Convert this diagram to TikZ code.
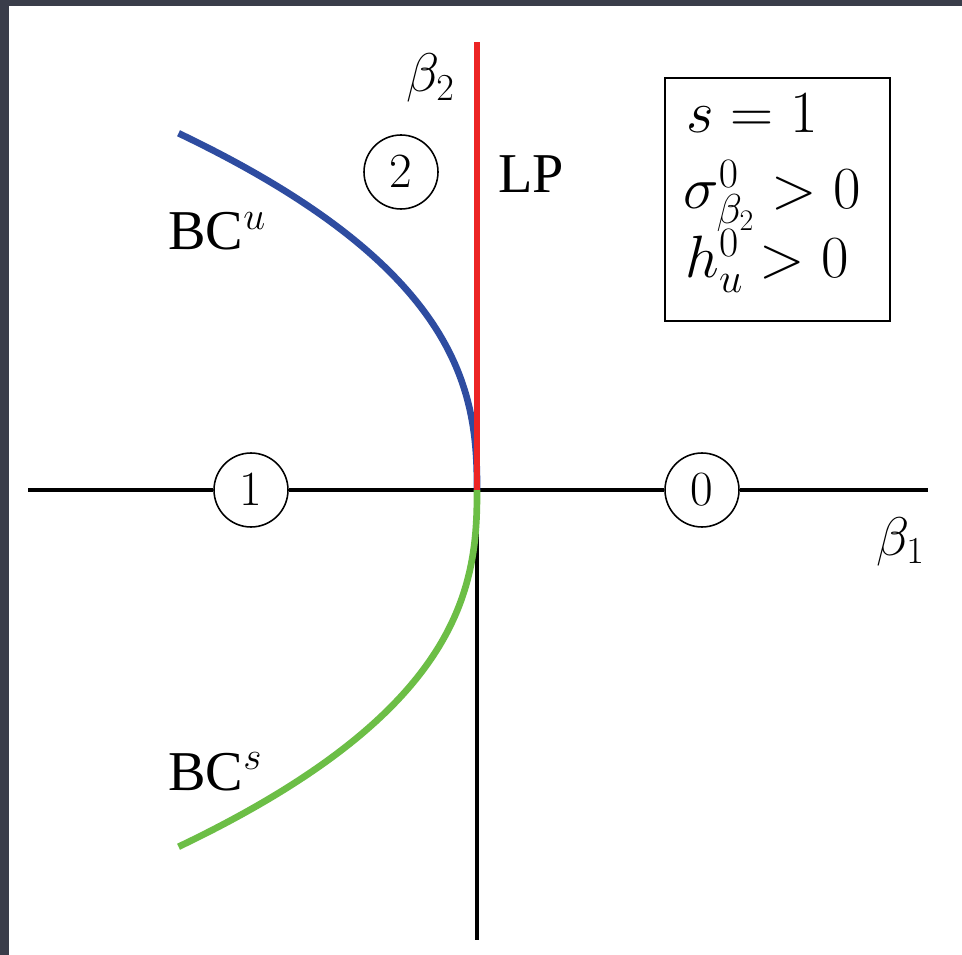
\RequirePackage{fix-cm}
\documentclass[tikz,border=0pt]{standalone}
\usepackage[no-math]{fontspec}
\newfontfamily\lblfont{Liberation Serif}
\definecolor{slide}{RGB}{58,61,74}
\definecolor{bcublue}{RGB}{46,76,160}
\definecolor{bcsgreen}{RGB}{108,190,70}
\definecolor{lpred}{RGB}{236,36,36}
\tikzset{
  region/.style={draw, circle, fill=white, line width=0.9pt, minimum size=1.48cm, inner sep=0pt, font=\fontsize{28}{32}\selectfont},
  lbl/.style={inner sep=0pt, font=\fontsize{32}{38}\selectfont},
  mlbl/.style={inner sep=0pt, font=\fontsize{31}{36}\selectfont},
  condtext/.style={inner sep=0pt, font=\fontsize{34}{40}\selectfont},
  axis/.style={line width=2.1pt}
}
\begin{document}
\begin{tikzpicture}[x=0.02cm, y=-0.02cm]
		% background
		\fill[slide] (0,0) rectangle (962,955);
		\fill[white] (9,6) rectangle (962,955);
		\useasboundingbox (0,0) rectangle (962,955);
		
		\coordinate (O) at (477,490);
		\coordinate (xl) at (28,490);
		\coordinate (xr) at (928,490);
		\coordinate (yt) at (477,42);
		\coordinate (yb) at (477,940);
		
		\node[region] (R1) at (251,490) {$1$};
		\node[region] (R0) at (702,490) {$0$};
		\node[region] (R2) at (401,172) {$2$};
		
		% axes
		\draw[axis] (xl) -- (R1);
		\draw[axis] (R1) -- (R0);
		\draw[axis] (R0) -- (xr);
		\draw[axis] (O) -- (yb);
		
		% bifurcation curves
		\draw[bcublue, line width=3.8pt] plot[domain=0:1, samples=60, smooth] ({477-299*\x*\x*sqrt(\x)}, {490-357*\x});
		\draw[bcsgreen, line width=3.8pt] plot[domain=0:1, samples=60, smooth] ({477-299*\x*\x*sqrt(\x)}, {490+357*\x});
		\draw[lpred, line width=3.2pt] (O) -- (yt);
		
		\node[mlbl, anchor=base east] (b2) at (455,92) {$\beta_2$};
		\node[mlbl, anchor=base east] (b1) at (925,555) {$\beta_1$};
		\node[lbl, anchor=base west] (LP) at (498,193) {\lblfont LP};
		\node[lbl, anchor=base west] (BCu) at (168,250) {\lblfont BC$^u$};
		\node[lbl, anchor=base west] (BCs) at (168,790) {\lblfont BC$^s$};
		
		% conditions
		\node[draw, line width=0.9pt, minimum width=4.5cm, minimum height=4.86cm] (cond) at (777.5,199.5) {};
		\node[condtext, anchor=base west] (c1) at (686,133) {$s=1$};
		\node[condtext, anchor=base west] (c2) at (683,209) {$\sigma^0_{\beta_2}>0$};
		\node[condtext, anchor=base west] (c3) at (685,278) {$h^0_u>0$};
	\end{tikzpicture}
\end{document}
